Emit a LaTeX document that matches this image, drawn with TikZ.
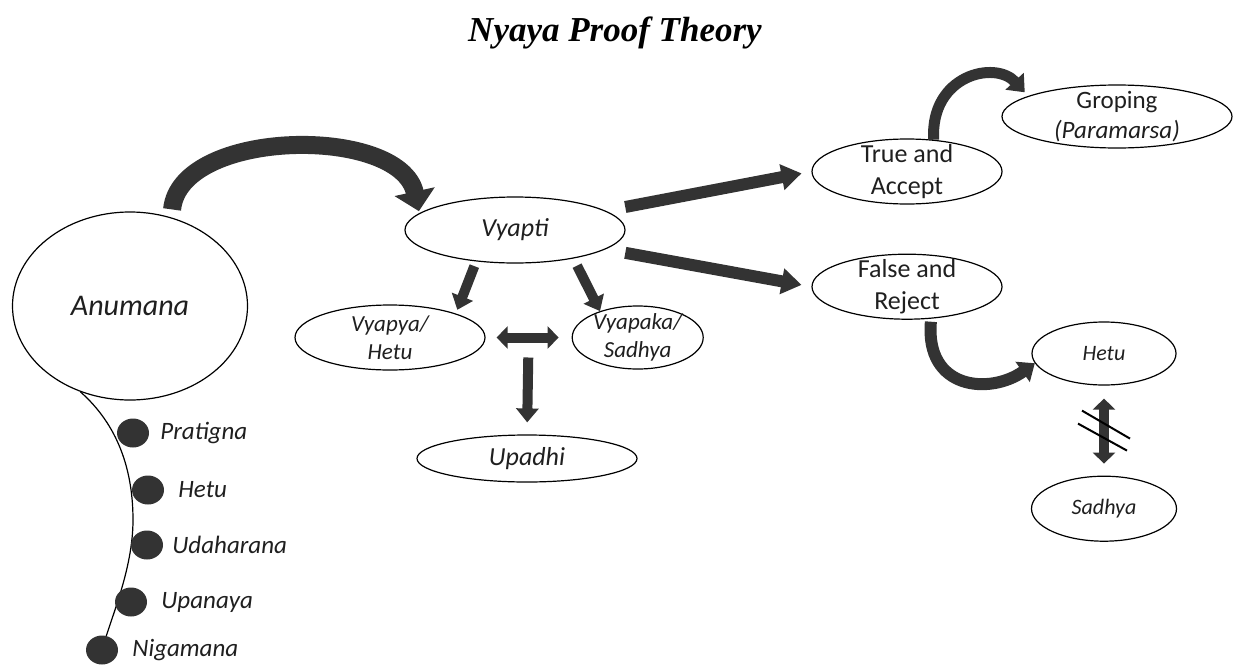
\documentclass[tikz,border=0pt]{standalone}
\usepackage{fontspec}
\setmainfont{Carlito}
\newfontfamily\titlefont{Liberation Serif}
\usetikzlibrary{arrows.meta,positioning,shapes.geometric,backgrounds}
\definecolor{ink}{HTML}{333333}
\newcommand\txtsize[2]{\fontsize{#1}{#2}\selectfont}

\begin{document}
\begin{tikzpicture}[
    x=1pt, y=-1pt,
    bubble/.style={draw, ellipse, line width=1.2pt, inner sep=0pt},
    lbl/.style={align=center, inner sep=0pt, text=black!88},
    dot/.style={ellipse, fill=ink, minimum width=32pt, minimum height=29pt, inner sep=0pt},
    item/.style={font=\txtsize{25}{30}\itshape, inner sep=0pt, text=black!88},
    bigarrow/.style={draw=ink, line width=18pt, -{Triangle[width=40pt,length=20pt]}},
    fatarrow/.style={draw=ink, line width=12pt, -{Triangle[width=25pt,length=20pt]}},
    arrow/.style={draw=ink, line width=10pt, -{Triangle[width=22pt,length=14pt]}},
    twoway/.style={draw=ink, line width=10pt, {Triangle[width=22pt,length=11pt]}-{Triangle[width=22pt,length=11pt]}},
    curl/.style={draw=ink, line width=11pt, -{Triangle[width=24pt,length=15pt]}}
]
    \useasboundingbox (0,0) rectangle (1234,664);

    \node[font=\titlefont\txtsize{35}{42}\bfseries\itshape] (title) at (615,33) {Nyaya Proof Theory};

    % main bubbles
    \node[bubble, minimum width=235pt, minimum height=188pt,
          label={[lbl, font=\txtsize{30}{36}\itshape]center:Anumana}] (anumana) at (130,306) {};
    \node[bubble, minimum width=220pt, minimum height=66pt,
          label={[lbl, font=\txtsize{26}{32}\itshape]center:Vyapti}] (vyapti) at (515,230) {};
    \node[bubble, minimum width=190pt, minimum height=65pt,
          label={[lbl, font=\txtsize{23}{28}\itshape]center:{Vyapya/\\Hetu}}] (vyapya) at (390,337.5) {};
    \node[bubble, minimum width=131pt, minimum height=63pt, right=86pt of vyapya,
          label={[lbl, font=\txtsize{23}{28}\itshape]center:{Vyapaka/\\Sadhya}}] (vyapaka) {};
    \node[bubble, minimum width=220pt, minimum height=47pt,
          label={[lbl, font=\txtsize{26}{32}\itshape]center:Upadhi}] (upadhi) at (527,458.5) {};

    \node[bubble, minimum width=190pt, minimum height=65pt,
          label={[lbl, font=\txtsize{26}{32}]center:{True and\\Accept}}] (accept) at (907,171.5) {};
    \node[bubble, minimum width=190pt, minimum height=65pt, below=49pt of accept,
          label={[lbl, font=\txtsize{26}{32}]center:{False and\\Reject}}] (reject) {};
    \node[bubble, minimum width=230pt, minimum height=63pt,
          label={[lbl, font=\txtsize{25}{30}]center:{Groping\\\textit{(Paramarsa)}}}] (groping) at (1117,116.5) {};
    \node[bubble, minimum width=144pt, minimum height=63pt,
          label={[lbl, font=\txtsize{22}{27}\itshape]center:Hetu}] (hetu) at (1104,353.5) {};
    \node[bubble, minimum width=145pt, minimum height=65pt, below=90pt of hetu,
          label={[lbl, font=\txtsize{22}{27}\itshape]center:Sadhya}] (sadhya) {};

    % the five members
    \node[dot] (p1) at (133,433) {};
    \node[dot] (p2) at (148,490) {};
    \node[dot] (p3) at (147,545) {};
    \node[dot] (p4) at (131,602) {};
    \node[dot] (p5) at (102,650) {};
    \node[item, right=11pt of p1] (l1) {Pratigna};
    \node[item, right=14pt of p2] (l2) {Hetu};
    \node[item, right=9pt of p3] (l3) {Udaharana};
    \node[item, right=14pt of p4] (l4) {Upanaya};
    \node[item, right=14pt of p5] (l5) {Nigamana};

    \begin{scope}[on background layer]
        \draw[line width=1.2pt] (anumana.240) .. controls (118,425) and (133,470) .. (133,520)
            .. controls (133,570) and (110,620) .. (p5.center);
    \end{scope}

    \draw[bigarrow, shorten <=8pt, shorten >=2pt] (anumana.65) .. controls (180,128) and (400,125) .. (vyapti.170);
    \draw[fatarrow, shorten <=20pt, shorten >=10pt] (vyapti.12) -- (accept.west);
    \draw[fatarrow, shorten <=20pt, shorten >=10pt] (vyapti.-12) -- (reject.west);
    \draw[arrow, shorten <=5pt, shorten >=4pt] (vyapti.219) -- (vyapya.20);
    \draw[arrow, shorten <=8pt] (vyapti.-26) -- (vyapaka.145);
    \draw[twoway, shorten <=11pt, shorten >=13pt] (vyapya.east) -- coordinate (link) (vyapaka.west);
    \draw[arrow, shorten <=20pt, shorten >=12pt] (link) -- (upadhi.north);

    \draw[curl, shorten >=5pt] (accept.50) .. controls (930,75) and (995,60) .. (groping.167);
    \draw[curl, line width=12pt, shorten <=3pt] (reject.-53) .. controls (925,390) and (990,395) .. (hetu.188);
    \draw[twoway, shorten <=13pt, shorten >=12pt] (hetu.south) -- coordinate (cut) (sadhya.north);
    \draw[line width=2pt, shift={(cut)}] (-22,-20) -- (26,8) (-26,-7) -- (23,20);

\end{tikzpicture}
\end{document}
